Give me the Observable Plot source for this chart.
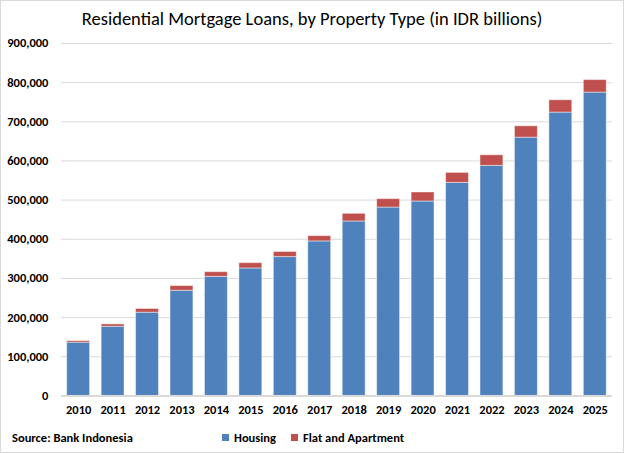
<!DOCTYPE html>
<html>
<head>
<meta charset="utf-8">
<script src="https://cdn.jsdelivr.net/npm/d3@7"></script>
<script src="https://cdn.jsdelivr.net/npm/@observablehq/plot@0.6"></script>
<style>
  html, body { margin: 0; padding: 0; background: #fff; }
  #chart { position: relative; width: 624px; height: 453px; box-sizing: border-box; border: 1px solid #d9d9d9; overflow: hidden; font-family: Carlito, Calibri, "Liberation Sans", Arial, sans-serif; }
  #title { position: absolute; left: 0; top: 6px; width: 622px; text-align: center; font-size: 18.5px; color: #000; }
  #plot { position: absolute; left: -1px; top: 28px; }
  #source { position: absolute; left: 11px; top: 429px; font-size: 12.5px; font-weight: bold; color: #000; }
  #legend { position: absolute; left: 221px; top: 429px; font-size: 12.5px; font-weight: bold; color: #000; display: flex; align-items: center; }
  .sw { display: inline-block; width: 7px; height: 7px; margin-right: 5px; }
  .item { display: flex; align-items: center; margin-right: 15px; }
</style>
</head>
<body>
<div id="chart">
  <div id="title">Residential Mortgage Loans, by Property Type (in IDR billions)</div>
  <div id="plot"></div>
  <div id="source">Source: Bank Indonesia</div>
  <div id="legend"></div>
</div>
<script>
const years = ["2010","2011","2012","2013","2014","2015","2016","2017","2018","2019","2020","2021","2022","2023","2024","2025"];
const housing = [136000, 176500, 212500, 268500, 304000, 325500, 354500, 394500, 445500, 481000, 496500, 544000, 587500, 659500, 723500, 774500];
const flat = [4000, 6000, 9500, 12000, 12000, 13500, 13000, 13500, 19500, 21500, 23000, 25500, 27000, 29000, 31500, 32000];
const seriesNames = ["Housing", "Flat and Apartment"];
const seriesColors = ["#4F81BD", "#C0504D"];
const yTicks = [0, 100000, 200000, 300000, 400000, 500000, 600000, 700000, 800000, 900000];

const data = [];
years.forEach((y, i) => {
  data.push({year: y, series: seriesNames[0], value: housing[i]});
  data.push({year: y, series: seriesNames[1], value: flat[i]});
});

const fmt = d3.format(",");

const chart = Plot.plot({
  width: 624,
  height: 391,
  marginTop: 14,
  marginLeft: 61,
  marginRight: 11,
  marginBottom: 24,
  style: {fontFamily: 'Carlito, Calibri, "Liberation Sans", Arial, sans-serif', fontSize: "12.5px", fontWeight: "bold", color: "#000", background: "transparent"},
  x: {domain: years, paddingInner: 0.335, paddingOuter: 0.1675, round: false, label: null, tickSize: 0, tickPadding: 9},
  y: {domain: [0, 900000], ticks: yTicks, tickFormat: fmt, label: null, tickSize: 0, tickPadding: 13},
  color: {domain: seriesNames, range: seriesColors},
  marks: [
    Plot.gridY(yTicks, {stroke: "#d9d9d9", strokeOpacity: 1, strokeWidth: 1}),
    Plot.barY(data, Plot.stackY({order: seriesNames}, {x: "year", y: "value", fill: "series", stroke: "white", strokeOpacity: 0.45, strokeWidth: 1})),
    Plot.ruleY([0], {stroke: "#d9d9d9", strokeWidth: 2})
  ]
});
document.getElementById("plot").appendChild(chart);

const legend = document.getElementById("legend");
seriesNames.forEach((s, i) => {
  const it = document.createElement("span");
  it.className = "item";
  const sw = document.createElement("span");
  sw.className = "sw";
  sw.style.background = seriesColors[i];
  it.appendChild(sw);
  it.appendChild(document.createTextNode(s));
  legend.appendChild(it);
});
</script>
</body>
</html>
